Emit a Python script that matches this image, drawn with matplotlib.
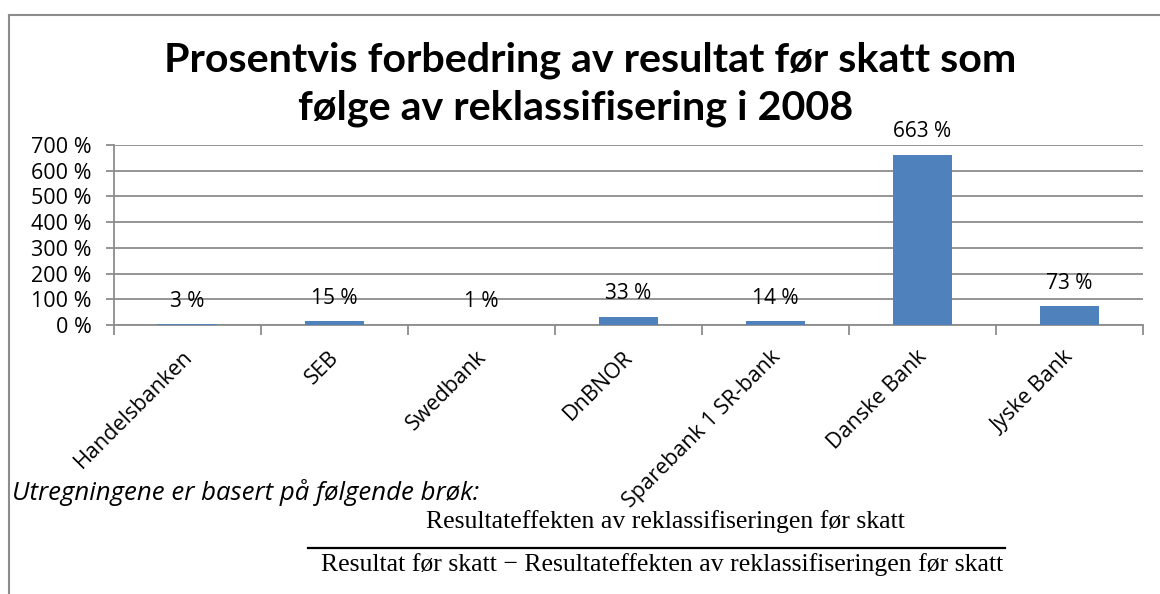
import matplotlib
matplotlib.use('Agg')
import matplotlib.pyplot as plt
from matplotlib.lines import Line2D

banks = ['Handelsbanken', 'SEB', 'Swedbank', 'DnBNOR', 'Sparebank 1 SR-bank',
         'Danske Bank', 'Jyske Bank']
values = [3, 15, 1, 33, 14, 663, 73]
yticks = [0, 100, 200, 300, 400, 500, 600, 700]

W, H = 1160, 594
grey = '#8c8c8c'
fig = plt.figure(figsize=(W / 100, H / 100), dpi=100)
ax = fig.add_axes([114 / W, 1 - 325 / H, (1143 - 114) / W, (325 - 145) / H])

x = list(range(len(banks)))
ax.bar(x, values, width=0.4, color='#4f81bd', zorder=3)
ax.set_xlim(-0.5, len(banks) - 0.5)
ax.set_ylim(0, 700)
ax.set_yticks(yticks)
ax.set_yticklabels([f'{v} %' for v in yticks], fontsize=15.5, family='Open Sans')
ax.yaxis.grid(True, color=grey, linewidth=1.3, zorder=0)
ax.tick_params(axis='y', length=6, color=grey, width=1.3, pad=10)

# category ticks at boundaries, labels at centres
ax.set_xticks([i - 0.5 for i in range(len(banks) + 1)])
ax.set_xticklabels([])
ax.tick_params(axis='x', length=7, color=grey, width=1.3)
for i, b in enumerate(banks):
    ax.text(i - 0.04, -0.12, b, transform=ax.get_xaxis_transform(),
            rotation=45, ha='right', va='top', rotation_mode='anchor',
            fontsize=15.5, family='Open Sans')

for s in ['top', 'right']:
    ax.spines[s].set_visible(False)
for s in ['left', 'bottom']:
    ax.spines[s].set_color(grey)
    ax.spines[s].set_linewidth(1.3)

for i, v in enumerate(values):
    ax.annotate(f'{v} %', (i, v), xytext=(0, 9), textcoords='offset points',
                ha='center', va='bottom', fontsize=15, family='Open Sans')

fig.text(590 / W, 1 - 60 / H, 'Prosentvis forbedring av resultat før skatt som',
         ha='center', va='center', fontsize=29.7, fontweight='bold', family='Lato')
fig.text(576 / W, 1 - 108 / H, 'følge av reklassifisering i 2008',
         ha='center', va='center', fontsize=29.7, fontweight='bold', family='Lato')

fig.text(12 / W, 1 - 492 / H, 'Utregningene er basert på følgende brøk:',
         ha='left', va='center', fontsize=18.5, style='italic', family='Open Sans')
fig.text(665 / W, 1 - 522 / H, 'Resultateffekten av reklassifiseringen før skatt',
         ha='center', va='center', fontsize=18.5, family='Liberation Serif')
fig.text(662 / W, 1 - 565 / H,
         'Resultat før skatt \u2212 Resultateffekten av reklassifiseringen før skatt',
         ha='center', va='center', fontsize=18.5, family='Liberation Serif')
fig.add_artist(Line2D([308 / W, 1005 / W], [1 - 548 / H, 1 - 548 / H],
                      color='black', linewidth=1.6, transform=fig.transFigure))

# outer frame (top and left edges visible)
fig.add_artist(Line2D([9 / W, 1], [1 - 15 / H, 1 - 15 / H], color=grey,
                      linewidth=1.5, transform=fig.transFigure))
fig.add_artist(Line2D([9 / W, 9 / W], [0, 1 - 15 / H], color=grey,
                      linewidth=1.5, transform=fig.transFigure))

fig.savefig('out.png', dpi=100)
